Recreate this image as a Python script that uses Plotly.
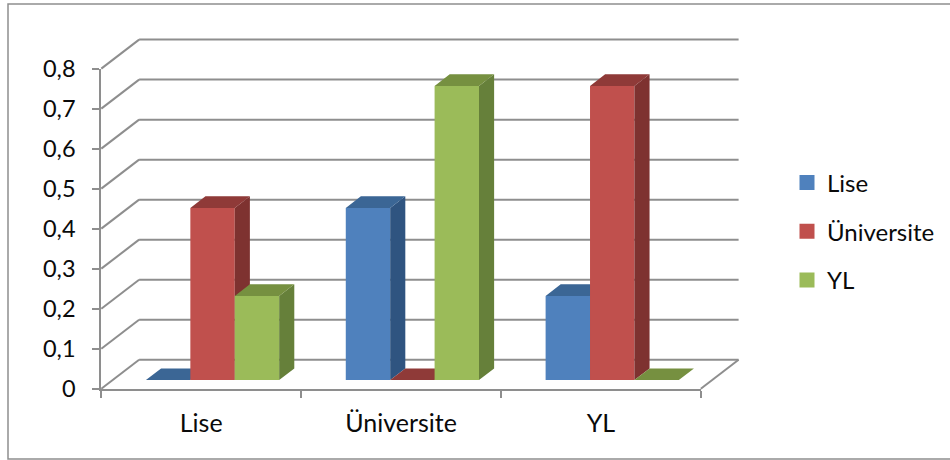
import plotly.graph_objects as go

# Chart data
categories = ["Lise", "Üniversite", "YL"]
series_names = ["Lise", "Üniversite", "YL"]
lise_values = [0.0, 0.43, 0.21]
universite_values = [0.43, 0.0, 0.735]
yl_values = [0.21, 0.735, 0.0]
y_ticks = [0.0, 0.1, 0.2, 0.3, 0.4, 0.5, 0.6, 0.7, 0.8]

# Shading of each series: front, side and top faces
front_colors = ["#4F81BD", "#C0504D", "#9BBB59"]
side_colors = ["#2F5480", "#7E3230", "#66803A"]
top_colors = ["#3B6695", "#8F3A38", "#769040"]
line_color = "#8E8E8E"
text_color = "#0A0A0A"
font_family = "Lato"

# Page layout in pixels
WIDTH, HEIGHT = 950, 460
AXIS_LEFT, AXIS_RIGHT = 101.3, 700.8
AXIS_BOTTOM, AXIS_TOP = 388.7, 68.6

# Scale of the value and category axes
px_per_cat = (AXIS_RIGHT - AXIS_LEFT) / len(categories)
px_per_val = (AXIS_BOTTOM - AXIS_TOP) / 0.8

# Oblique projection: wall depth and the depth of one bar, in axis units
depth_x = 37.8 / px_per_cat
depth_y = 29.0 / px_per_val
bar_start = 0.30
bar_depth = 0.40

# A cluster is three bars and a 150 % gap
bar_width = 1 / 4.5
slots = [-1, 0, 1]

x_full = [-0.5 - AXIS_LEFT / px_per_cat, -0.5 + (WIDTH - AXIS_LEFT) / px_per_cat]
y_full = [-(HEIGHT - AXIS_BOTTOM) / px_per_val, AXIS_BOTTOM / px_per_val]

fig = go.Figure()

# Each series sits on its own overlaid axis pair so nearer faces cover farther ones
for s, values in enumerate([lise_values, universite_values, yl_values]):
    suffix = "" if s == 0 else str(s + 1)
    xa, ya = "x" + suffix, "y" + suffix
    shift_x = bar_start * depth_x
    shift_y = bar_start * depth_y
    back_x = bar_depth * depth_x
    back_y = bar_depth * depth_y
    lefts = [i + slots[s] * bar_width + shift_x - bar_width / 2 for i in range(len(values))]

    fig.add_trace(go.Bar(
        x=[l + bar_width / 2 for l in lefts], y=values, base=shift_y, width=bar_width,
        marker=dict(color=front_colors[s], line=dict(width=0)),
        xaxis=xa, yaxis=ya, showlegend=False, hoverinfo="skip",
    ))

    side_x, side_y, top_x, top_y = [], [], [], []
    for l, v in zip(lefts, values):
        r = l + bar_width
        y0, y1 = shift_y, shift_y + v
        if v > 0:
            side_x += [r, r + back_x, r + back_x, r, r, None]
            side_y += [y0, y0 + back_y, y1 + back_y, y1, y0, None]
        top_x += [l, r, r + back_x, l + back_x, l, None]
        top_y += [y1, y1, y1 + back_y, y1 + back_y, y1, None]
    fig.add_trace(go.Scatter(
        x=side_x, y=side_y, mode="lines", fill="toself", fillcolor=side_colors[s],
        line=dict(width=0), xaxis=xa, yaxis=ya, showlegend=False, hoverinfo="skip",
    ))
    fig.add_trace(go.Scatter(
        x=top_x, y=top_y, mode="lines", fill="toself", fillcolor=top_colors[s],
        line=dict(width=0), xaxis=xa, yaxis=ya, showlegend=False, hoverinfo="skip",
    ))

# Legend swatches, on the axis pair that shows the ticks and labels
for s, name in enumerate(series_names):
    fig.add_trace(go.Scatter(
        x=categories, y=[None] * len(categories), mode="markers", name=name,
        marker=dict(symbol="square", size=15, color=front_colors[s]),
        xaxis="x4", yaxis="y4", legendgroup=name, hoverinfo="skip",
    ))

# Walls and floor of the 3D box
x_lo, x_hi = -0.5, len(categories) - 0.5
shapes = []


def wall_line(x0, y0, x1, y1):
    shapes.append(dict(type="line", xref="x", yref="y", layer="below",
                       x0=x0, y0=y0, x1=x1, y1=y1,
                       line=dict(color=line_color, width=2)))


for v in y_ticks:
    wall_line(x_lo, v, x_lo + depth_x, v + depth_y)
    wall_line(x_lo + depth_x, v + depth_y, x_hi + depth_x, v + depth_y)
wall_line(x_hi, 0, x_hi + depth_x, depth_y)

# Outer border of the chart area
shapes.append(dict(type="rect", xref="paper", yref="paper", layer="below",
                   x0=8 / WIDTH, x1=1.01, y0=1 - 459 / HEIGHT, y1=1 - 4 / HEIGHT,
                   line=dict(color=line_color, width=1.5)))

hidden = dict(visible=False, fixedrange=True)
fig.update_layout(
    width=WIDTH, height=HEIGHT,
    margin=dict(l=0, r=0, t=0, b=0, autoexpand=False),
    paper_bgcolor="white", plot_bgcolor="rgba(0,0,0,0)",
    separators=",.",
    barmode="overlay",
    shapes=shapes,
    showlegend=True,
    legend=dict(
        x=787 / WIDTH, xanchor="left", y=1 - 160.5 / HEIGHT, yanchor="top",
        traceorder="grouped", tracegroupgap=14.5, itemsizing="trace", itemwidth=30,
        font=dict(family=font_family, size=24, color=text_color),
        bgcolor="rgba(0,0,0,0)",
    ),
    xaxis=dict(range=x_full, domain=[0, 1], anchor="y", **hidden),
    yaxis=dict(range=y_full, domain=[0, 1], anchor="x", **hidden),
    xaxis2=dict(range=x_full, domain=[0, 1], anchor="y2", overlaying="x", **hidden),
    yaxis2=dict(range=y_full, domain=[0, 1], anchor="x2", overlaying="y", **hidden),
    xaxis3=dict(range=x_full, domain=[0, 1], anchor="y3", overlaying="x", **hidden),
    yaxis3=dict(range=y_full, domain=[0, 1], anchor="x3", overlaying="y", **hidden),
    xaxis4=dict(
        type="category", categoryorder="array", categoryarray=categories,
        range=[x_lo, x_hi], domain=[AXIS_LEFT / WIDTH, AXIS_RIGHT / WIDTH], anchor="y4",
        tickson="boundaries", ticks="outside", ticklen=7, tickwidth=2, tickcolor=line_color,
        showgrid=False, zeroline=False, showline=True, linecolor=line_color, linewidth=2,
        tickfont=dict(family=font_family, size=25, color=text_color),
        ticklabelstandoff=11, fixedrange=True,
    ),
    yaxis4=dict(
        range=[0, 0.8], anchor="x4",
        domain=[1 - AXIS_BOTTOM / HEIGHT, 1 - AXIS_TOP / HEIGHT],
        tickvals=y_ticks, tickformat=".1~f",
        ticks="outside", ticklen=7, tickwidth=2, tickcolor=line_color,
        showgrid=False, zeroline=False, showline=True, linecolor=line_color, linewidth=2,
        tickfont=dict(family=font_family, size=23.5, color=text_color),
        ticklabelstandoff=12, fixedrange=True,
    ),
)

fig.write_html("out.html", config=dict(displayModeBar=False))
